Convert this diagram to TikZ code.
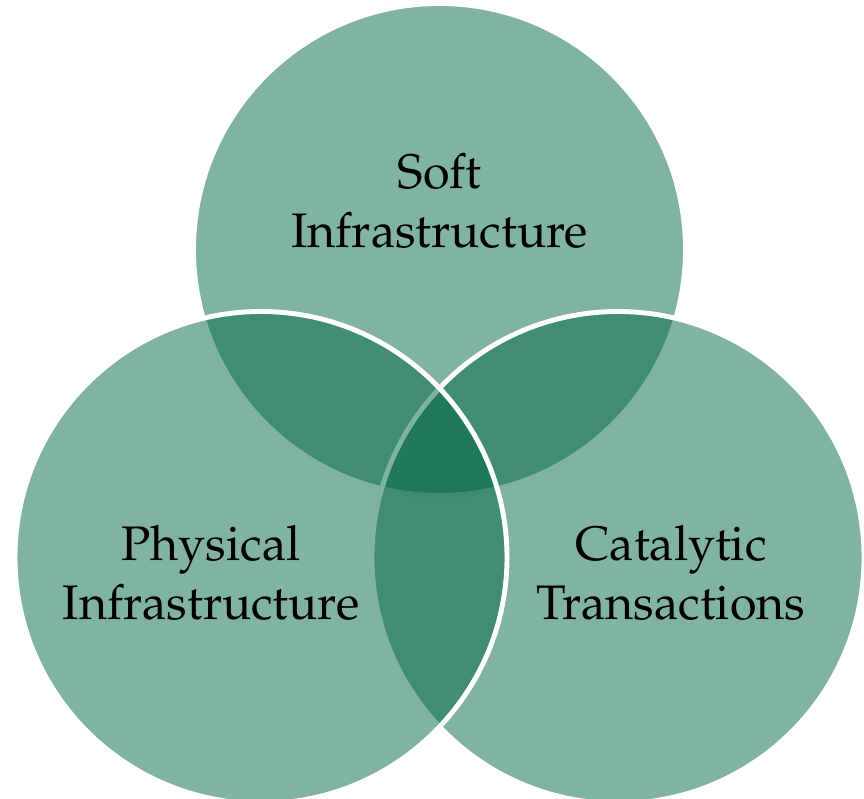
\documentclass[tikz,border=0pt]{standalone}
\usepackage[T1]{fontenc}
\usepackage{mathpazo}
\definecolor{venngreen}{RGB}{1,103,69}

\begin{document}
\begin{tikzpicture}[x=0.02cm,y=-0.02cm]
\tikzstyle{venn}=[fill=venngreen,fill opacity=0.5,draw=white,line width=2.8pt]
\tikzstyle{venntext}=[align=center,text=black,inner sep=0pt,font=\fontsize{27.6}{33.5}\selectfont]
\useasboundingbox (0,0) rectangle (864,798);
\clip (0,0) rectangle (864,798);
\coordinate (softc) at (439.5,249.5);
\coordinate (physc) at (261,557.5);
\coordinate (catc) at (618,557.5);
\draw [venn] (softc) circle (246);
\draw [venn] (catc) circle (246);
\draw [venn] (physc) circle (246);
\node [venntext] (soft) at (439.5,201) {Soft\\Infrastructure};
\node [venntext] (phys) at (211,573) {Physical\\Infrastructure};
\node [venntext] (cat) at (671,573) {Catalytic\\Transactions};
\end{tikzpicture}
\end{document}
